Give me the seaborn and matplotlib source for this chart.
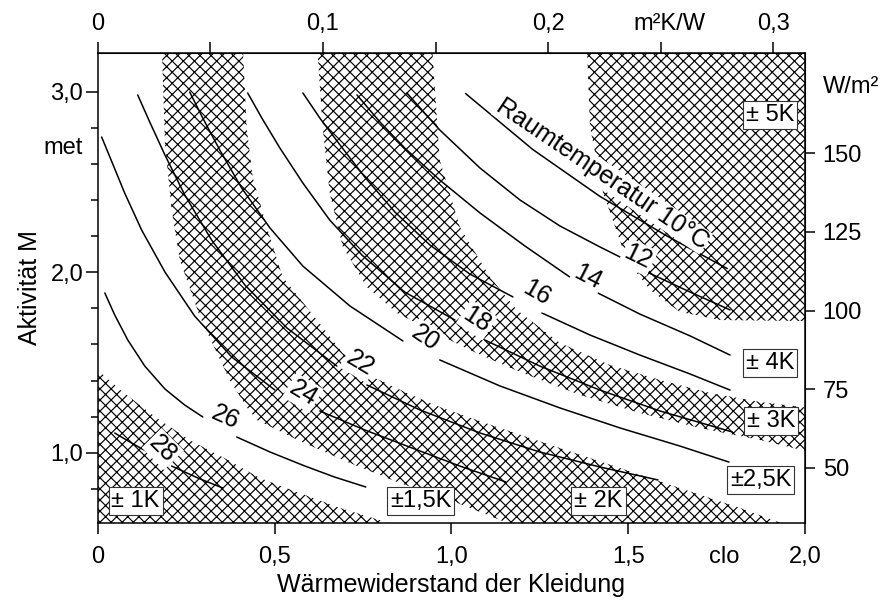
import matplotlib
matplotlib.use("Agg")

import matplotlib.pyplot as plt
import pandas as pd
import seaborn as sns
from matplotlib.ticker import FixedLocator

# comfort lines per room temperature (clo, met); None = gap left for the label
T10_CLO = [1.04, 1.23, 1.42, 1.61, 1.78]
T10_MET = [2.99, 2.68, 2.42, 2.20, 2.02]
T12_CLO = [0.874, 0.967, 1.081, 1.194, 1.307, 1.420, 1.477, None, 1.553, 1.675, 1.788]
T12_MET = [2.993, 2.788, 2.577, 2.400, 2.256, 2.140, 2.084, None, 2.001, 1.890, 1.791]
T14_CLO = [0.733, 0.798, 0.868, 0.967, 1.081, 1.208, 1.335, None, 1.414, 1.533, 1.675, 1.788]
T14_MET = [2.982, 2.832, 2.688, 2.511, 2.328, 2.145, 1.973, None, 1.885, 1.768, 1.647, 1.541]
T16_CLO = [0.580, 0.628, 0.685, 0.755, 0.840, 0.939, 1.052, 1.174, None, 1.256, 1.392, 1.533, 1.675, 1.788]
T16_MET = [2.993, 2.854, 2.705, 2.527, 2.334, 2.151, 1.990, 1.863, None, 1.774, 1.652, 1.541, 1.436, 1.347]
T18_CLO = [0.424, 0.464, 0.515, 0.580, 0.656, 0.747, 0.868, 1.010, None, 1.095, 1.250, 1.420, 1.590, 1.794]
T18_MET = [2.993, 2.854, 2.688, 2.494, 2.289, 2.095, 1.890, 1.735, None, 1.624, 1.480, 1.347, 1.231, 1.115]
T20_CLO = [0.260, 0.297, 0.345, 0.407, 0.487, 0.580, 0.713, 0.863, None, 0.967, 1.137, 1.307, 1.477, 1.646, 1.785]
T20_MET = [2.998, 2.854, 2.677, 2.466, 2.245, 2.034, 1.813, 1.619, None, 1.514, 1.370, 1.248, 1.137, 1.037, 0.948]
T22_CLO = [0.113, 0.147, 0.190, 0.246, 0.322, 0.416, 0.535, 0.676, None, 0.761, 0.911, 1.081, 1.250, 1.420, 1.584]
T22_MET = [2.982, 2.832, 2.649, 2.428, 2.178, 1.929, 1.691, 1.480, None, 1.375, 1.237, 1.109, 1.004, 0.921, 0.849]
T24_CLO = [0.011, 0.040, 0.076, 0.124, 0.190, 0.274, 0.379, 0.501, None, 0.628, 0.755, 0.897, 1.024, 1.154]
T24_MET = [2.749, 2.611, 2.439, 2.234, 2.001, 1.757, 1.530, 1.347, None, 1.231, 1.126, 1.020, 0.926, 0.838]
T26_CLO = [0.020, 0.048, 0.085, 0.133, 0.190, 0.246, 0.297, None, 0.393, 0.487, 0.586, 0.670, 0.758]
T26_MET = [1.885, 1.763, 1.624, 1.480, 1.353, 1.264, 1.198, None, 1.087, 1.004, 0.926, 0.865, 0.810]
T28_CLO = [0.048, 0.091, 0.141, None, 0.209, 0.283, 0.354]
T28_MET = [1.109, 1.059, 1.004, None, 0.926, 0.860, 0.804]

CURVES = {
    10: (T10_CLO, T10_MET), 12: (T12_CLO, T12_MET), 14: (T14_CLO, T14_MET),
    16: (T16_CLO, T16_MET), 18: (T18_CLO, T18_MET), 20: (T20_CLO, T20_MET),
    22: (T22_CLO, T22_MET), 24: (T24_CLO, T24_MET), 26: (T26_CLO, T26_MET),
    28: (T28_CLO, T28_MET),
}

# inline labels of the lines
LABEL_TEXT = ["12", "14", "16", "18", "20", "22", "24", "26", "28"]
LABEL_CLO = [1.528, 1.386, 1.242, 1.072, 0.925, 0.741, 0.580, 0.362, 0.184]
LABEL_MET = [2.084, 1.973, 1.885, 1.735, 1.635, 1.497, 1.331, 1.198, 1.020]
LABEL_ROT = [-26, -27, -30, -33, -34, -31, -31, -24, -45]
ROOM_TEXT = "Raumtemperatur 10°C"
ROOM_CLO, ROOM_MET = 1.426, 2.544

# tolerance boxes
BOX_TEXT = ["± 5K", "± 4K", "± 3K", "±2,5K", "± 2K", "±1,5K", "± 1K"]
BOX_CLO = [1.902, 1.901, 1.905, 1.874, 1.416, 0.914, 0.107]
BOX_MET = [2.871, 1.497, 1.176, 0.849, 0.732, 0.732, 0.732]

# hatched bands
BAND_A_CLO = [0.0, 0.071, 0.167, 0.260, 0.368, 0.458, 0.563, 0.685, 0.823, 0.90]
BAND_A_MET = [1.458, 1.336, 1.192, 1.070, 0.960, 0.860, 0.782, 0.694, 0.611, 0.57]
BAND_B_LO_CLO = [0.181, 0.190, 0.209, 0.232, 0.289, 0.337, 0.373, 0.421, 0.450, 0.571, 0.713, 0.854, 0.996, 1.208]
BAND_B_LO_MET = [3.259, 2.716, 2.345, 2.068, 1.752, 1.552, 1.403, 1.253, 1.181, 1.065, 0.943, 0.832, 0.738, 0.572]
BAND_B_HI_CLO = [0.410, 0.421, 0.438, 0.478, 0.523, 0.620, 0.693, 0.778, 0.874, 0.967, 1.137, 1.307, 1.477, 1.646, 1.816, 1.986]
BAND_B_HI_MET = [3.259, 2.804, 2.527, 2.250, 1.973, 1.735, 1.552, 1.419, 1.331, 1.253, 1.137, 1.026, 0.915, 0.804, 0.694, 0.572]
BAND_C_LO_CLO = [0.620, 0.636, 0.656, 0.693, 0.761, 0.846, 0.939, 1.052, 1.194, 1.364, 1.533, 1.703, 1.873, 2.014]
BAND_C_LO_MET = [3.259, 2.804, 2.439, 2.140, 1.918, 1.774, 1.680, 1.569, 1.447, 1.320, 1.220, 1.137, 1.070, 1.004]
BAND_C_HI_CLO = [0.945, 0.967, 1.024, 1.109, 1.185, 1.307, 1.448, 1.590, 1.731, 1.873, 2.014]
BAND_C_HI_MET = [3.259, 2.622, 2.250, 1.973, 1.791, 1.608, 1.486, 1.403, 1.331, 1.281, 1.248]
BAND_D_CLO = [1.383, 1.392, 1.429, 1.496, 1.562, 1.646, 1.760, 2.014, 2.014]
BAND_D_MET = [3.259, 2.804, 2.439, 2.068, 1.901, 1.780, 1.735, 1.729, 3.259]

X_TICKS = [0, 0.5, 1.0, 1.5, 2.0]
X_TICKLABELS = ["0", "0,5", "1,0", "1,5", "2,0"]
Y_TICKS = [1, 2, 3]
Y_TICKLABELS = ["1,0", "2,0", "3,0"]
Y_MINOR = [0.8, 1.2, 1.4, 1.6, 1.8, 2.2, 2.4, 2.6, 2.8]
TOP_TICKS = [0, 0.05, 0.1, 0.15, 0.2, 0.25, 0.3]
TOP_TICKLABELS = ["0", "", "0,1", "", "0,2", "", "0,3"]
RIGHT_TICKS = [50, 75, 100, 125, 150]

M2KW_PER_CLO = 0.157
W_PER_MET = 57.4
W_OFFSET = -2.6

HATCH = "xxx"
FS_TICK = 17
FS_LABEL = 18


def curve_frame() -> pd.DataFrame:
    rows = []
    for temp, (xs, ys) in CURVES.items():
        seg = 0
        for x, y in zip(xs, ys):
            if x is None:
                seg += 1
                continue
            rows.append({"clo": x, "met": y, "segment": f"{temp}-{seg}"})
    return pd.DataFrame(rows)


def band(ax, xs, ys):
    ax.fill(xs, ys, facecolor="none", edgecolor="black", linewidth=0, hatch=HATCH, zorder=1)


sns.set_style("ticks")
plt.rcParams["font.family"] = ["Liberation Sans", "DejaVu Sans"]
plt.rcParams["hatch.linewidth"] = 0.85
plt.rcParams["axes.edgecolor"] = "black"
plt.rcParams["xtick.color"] = "black"
plt.rcParams["ytick.color"] = "black"
plt.rcParams["text.color"] = "black"
plt.rcParams["axes.labelcolor"] = "black"

fig = plt.figure(figsize=(8.83, 6.03), dpi=100)
ax = fig.add_axes([0.1107, 0.1322, 0.801, 0.7804])
ax.set_facecolor("white")

# hatched tolerance bands
ax.fill_between(BAND_A_CLO, 0.5, BAND_A_MET, facecolor="none", edgecolor="black",
                linewidth=0, hatch=HATCH, zorder=1)
band(ax, BAND_B_LO_CLO + BAND_B_HI_CLO[::-1], BAND_B_LO_MET + BAND_B_HI_MET[::-1])
band(ax, BAND_C_LO_CLO + BAND_C_HI_CLO[::-1], BAND_C_LO_MET + BAND_C_HI_MET[::-1])
band(ax, BAND_D_CLO, BAND_D_MET)

sns.lineplot(data=curve_frame(), x="clo", y="met", units="segment", estimator=None,
             sort=False, color="black", linewidth=1.1, legend=False, ax=ax, zorder=2)

for txt, x, y, rot in zip(LABEL_TEXT, LABEL_CLO, LABEL_MET, LABEL_ROT):
    ax.text(x, y, txt, rotation=rot, rotation_mode="anchor", ha="center", va="center",
            fontsize=FS_LABEL, zorder=4,
            bbox=dict(boxstyle="square,pad=0.08", fc="white", ec="none"))
ax.text(ROOM_CLO, ROOM_MET, ROOM_TEXT, rotation=-34, rotation_mode="anchor",
        ha="center", va="center", fontsize=FS_LABEL, zorder=4,
        bbox=dict(boxstyle="square,pad=0.02", fc="white", ec="none"))

for txt, x, y in zip(BOX_TEXT, BOX_CLO, BOX_MET):
    ax.text(x, y, txt, ha="center", va="center", fontsize=FS_TICK, zorder=5,
            bbox=dict(boxstyle="square,pad=0.12", fc="white", ec="#333333", lw=0.8))

ax.set_xlim(0, 2.0)
ax.set_ylim(0.609, 3.216)
ax.set_xticks(X_TICKS)
ax.set_xticklabels(X_TICKLABELS)
ax.set_yticks(Y_TICKS)
ax.set_yticklabels(Y_TICKLABELS)
ax.yaxis.set_minor_locator(FixedLocator(Y_MINOR))
ax.tick_params(axis="x", which="major", direction="out", length=8, width=1.1,
               pad=8, labelsize=FS_TICK)
ax.tick_params(axis="y", which="major", direction="out", length=8.4, width=1.1,
               pad=2, labelsize=FS_TICK)
ax.tick_params(axis="y", which="minor", direction="out", length=5, width=1.1)
for sp in ax.spines.values():
    sp.set_linewidth(1.1)
    sp.set_color("black")

top = ax.secondary_xaxis("top", functions=(lambda c: c * M2KW_PER_CLO,
                                           lambda r: r / M2KW_PER_CLO))
top.set_xticks(TOP_TICKS)
top.set_xticklabels(TOP_TICKLABELS)
top.tick_params(direction="out", length=7.6, width=1.1, pad=5, labelsize=FS_TICK)

right = ax.secondary_yaxis("right", functions=(lambda m: W_PER_MET * m + W_OFFSET,
                                               lambda w: (w - W_OFFSET) / W_PER_MET))
right.set_yticks(RIGHT_TICKS)
right.tick_params(direction="out", length=7.2, width=1.1, pad=5.5, labelsize=FS_TICK)

# unit labels sitting among the tick labels
ax.annotate("clo", xy=(1.77, 0), xycoords=("data", "axes fraction"), xytext=(0, -16),
            textcoords="offset points", ha="center", va="top", fontsize=FS_TICK)
ax.annotate("m²K/W", xy=(1.617, 1), xycoords=("data", "axes fraction"), xytext=(0, 12.6),
            textcoords="offset points", ha="center", va="bottom", fontsize=FS_TICK)
ax.annotate("W/m²", xy=(1, 3.028), xycoords=("axes fraction", "data"), xytext=(12.7, 0),
            textcoords="offset points", ha="left", va="center", fontsize=FS_TICK)
ax.annotate("met", xy=(0, 2.69), xycoords=("axes fraction", "data"), xytext=(-10.4, 0),
            textcoords="offset points", ha="right", va="center", fontsize=FS_TICK)

ax.set_xlabel("Wärmewiderstand der Kleidung", fontsize=FS_LABEL, labelpad=4)
ax.set_ylabel("Aktivität M", fontsize=FS_LABEL, labelpad=6)

fig.savefig("out.png", dpi=100)
